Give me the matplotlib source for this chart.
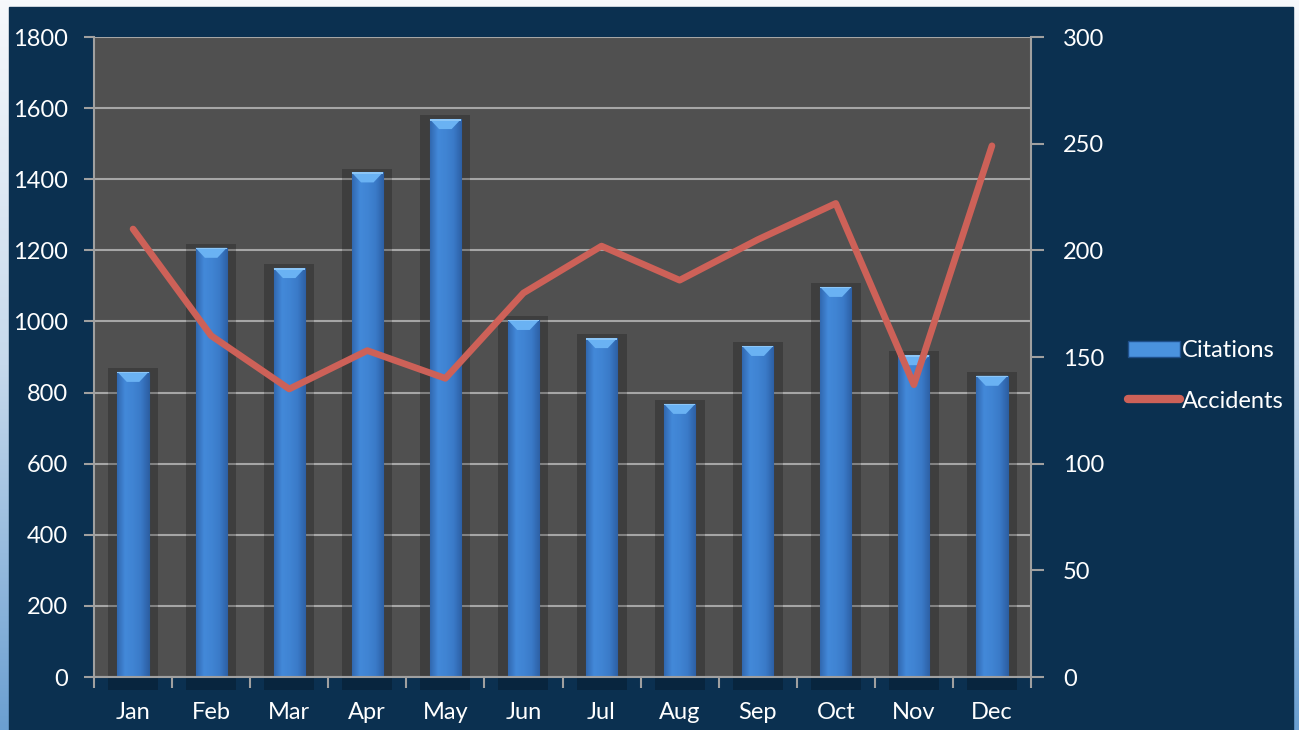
import matplotlib.pyplot as plt
import numpy as np
from matplotlib.colors import LinearSegmentedColormap
from matplotlib.patches import Rectangle, Polygon, Patch
from matplotlib.lines import Line2D

# --- Data ---
months = ['Jan', 'Feb', 'Mar', 'Apr', 'May', 'Jun',
          'Jul', 'Aug', 'Sep', 'Oct', 'Nov', 'Dec']
citations = [858, 1207, 1150, 1419, 1569, 1004, 953, 768, 931, 1097, 905, 847]
accidents = [210, 160, 135, 153, 140, 180, 202, 186, 205, 222, 137, 249]

left_ticks = list(range(0, 1801, 200))
right_ticks = list(range(0, 301, 50))

# --- Style ---
plt.rcParams['font.family'] = ['Lato', 'DejaVu Sans']
NAVY = '#0b3050'
PLOT_BG = '#505050'
GRID = '#a6a6a6'
AXIS = '#a0a0a0'
BAR = '#3d7ecd'
LINE = '#cd6158'
FS = 17

fig = plt.figure(figsize=(12.99, 7.30), dpi=100)

# slide background: light gradient with navy panel on top
bg = fig.add_axes([0, 0, 1, 1], zorder=-10)
grad = np.linspace(0, 1, 256).reshape(-1, 1)
bg_cmap = LinearSegmentedColormap.from_list('bg', ['#f7f9fc', '#c6d9ec', '#6b9fd1'])
bg.imshow(grad, aspect='auto', cmap=bg_cmap, extent=[0, 1, 0, 1], origin='upper')
bg.add_patch(Rectangle((9 / 1299, 0), (1293 - 9) / 1299, (730 - 7) / 730,
                       color=NAVY, transform=bg.transAxes))
bg.set_xlim(0, 1)
bg.set_ylim(0, 1)
bg.set_axis_off()

# --- Main axes ---
ax = fig.add_axes([94 / 1299, 1 - 677 / 730, (1031 - 94) / 1299, (677 - 37) / 730])
ax.set_facecolor(PLOT_BG)
x = np.arange(len(months))
cit = np.array(citations)

# shadow boxes behind the bars (spill below the axis)
ax.bar(x, cit + 11 + 37, bottom=-37, width=0.64, color='black', alpha=0.22,
       clip_on=False, zorder=1, linewidth=0)

bars = ax.bar(x, cit, width=0.40, color=BAR, edgecolor='#2b5f9f',
              linewidth=0.8, zorder=2)

# horizontal shading on each bar + bevelled top
bar_cmap = LinearSegmentedColormap.from_list(
    'bar', ['#3168b0', '#4389d9', '#4084d3', '#3a7ac8', '#2d60a5'])
hgrad = np.linspace(0, 1, 64).reshape(1, -1)
bevel_h = 28
for b in bars:
    x0, w, h = b.get_x(), b.get_width(), b.get_height()
    im = ax.imshow(hgrad, extent=[x0, x0 + w, 0, h], aspect='auto',
                   cmap=bar_cmap, zorder=2.1)
    im.set_clip_path(b)
    d = w * 0.3
    ax.add_patch(Polygon([(x0, h), (x0 + w, h), (x0 + w - d, h - bevel_h),
                          (x0 + d, h - bevel_h)], closed=True,
                         facecolor='#6ab2f3', edgecolor='none', zorder=2.2))
    ax.add_patch(Rectangle((x0, h - 4), w, 4, facecolor='#8cc6f7',
                           edgecolor='none', zorder=2.3))

ax.set_xlim(-0.5, len(months) - 0.5)
ax.set_ylim(0, 1800)
ax.set_yticks(left_ticks)
ax.yaxis.grid(True, color=GRID, linewidth=1.5)
ax.set_axisbelow(True)

# x ticks between categories, labels at centres
ax.set_xticks(np.arange(-0.5, len(months), 1))
ax.set_xticklabels([''] * (len(months) + 1))
ax.set_xticks(x, minor=True)
ax.set_xticklabels(months, minor=True)
ax.tick_params(axis='x', which='major', direction='out', length=8, width=1.5,
               color=AXIS)
ax.tick_params(axis='x', which='minor', length=0, pad=18, labelsize=FS,
               labelcolor='white')
ax.tick_params(axis='y', direction='out', length=7, width=1.5, color=AXIS,
               labelcolor='white', labelsize=FS, pad=12)

for side in ['top', 'right']:
    ax.spines[side].set_visible(False)
for side in ['left', 'bottom']:
    ax.spines[side].set_color(AXIS)
    ax.spines[side].set_linewidth(1.5)

# --- Secondary axis: accidents line ---
ax2 = ax.twinx()
ax2.plot(x, accidents, color=LINE, linewidth=4.8, solid_capstyle='round',
         solid_joinstyle='round', zorder=5)
ax2.set_ylim(0, 300)
ax2.set_yticks(right_ticks)
ax2.tick_params(axis='y', direction='out', length=9, width=1.5, color=AXIS,
                labelcolor='white', labelsize=FS, pad=14)
for side in ['top', 'left', 'bottom']:
    ax2.spines[side].set_visible(False)
ax2.spines['right'].set_color(AXIS)
ax2.spines['right'].set_linewidth(1.5)

# --- Legend ---
handles = [Patch(facecolor='#4a92de', edgecolor='#1f4f8a', linewidth=1),
           Line2D([0], [0], color=LINE, linewidth=6, solid_capstyle='round')]
fig.legend(handles, ['Citations', 'Accidents'], loc='center left',
           bbox_to_anchor=(1116 / 1299, 1 - 376 / 730), frameon=False,
           fontsize=FS, labelcolor='white', handlelength=2.2,
           handletextpad=0.1, labelspacing=1.25, borderpad=0)

fig.savefig('out.png', dpi=100)
